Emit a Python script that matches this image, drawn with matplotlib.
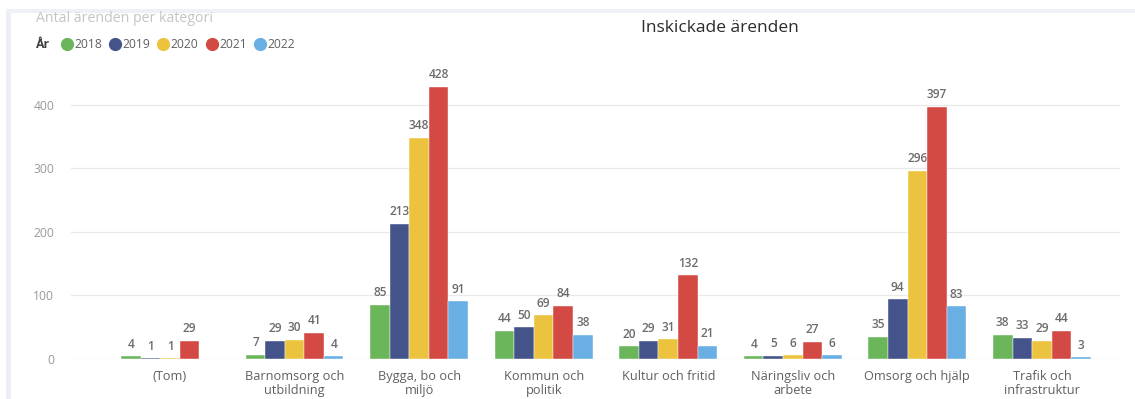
import numpy as np
import matplotlib
matplotlib.use("Agg")
import matplotlib.pyplot as plt
from matplotlib.patches import Rectangle
from matplotlib.lines import Line2D

plt.rcParams["font.family"] = ["Open Sans", "DejaVu Sans"]

categories = ["(Tom)", "Barnomsorg och\nutbildning", "Bygga, bo och\nmiljö", "Kommun och\npolitik",
              "Kultur och fritid", "Näringsliv och\narbete", "Omsorg och hjälp", "Trafik och\ninfrastruktur"]
years = ["2018", "2019", "2020", "2021", "2022"]
v2018 = [4, 7, 85, 44, 20, 4, 35, 38]
v2019 = [1, 29, 213, 50, 29, 5, 94, 33]
v2020 = [1, 30, 348, 69, 31, 6, 296, 29]
v2021 = [29, 41, 428, 84, 132, 27, 397, 44]
v2022 = [None, 4, 91, 38, 21, 6, 83, 3]
yticks = [0, 100, 200, 300, 400]

colors = ["#6BB65B", "#44538A", "#EBC33F", "#D34A45", "#6AAFE4"]
series = [v2018, v2019, v2020, v2021, v2022]

fig = plt.figure(figsize=(11.35, 3.99), dpi=100)
ax = fig.add_axes([0.0626, 0.1003, 0.9245, 0.717])

# card shadow edges of the screenshot
fig.patches.append(Rectangle((6 / 1135, 0.0), 5 / 1135, 1 - 9 / 399, transform=fig.transFigure,
                             facecolor="#eceef6", edgecolor="none", zorder=0))
fig.patches.append(Rectangle((6 / 1135, 1 - 13 / 399), 1.0, 4 / 399, transform=fig.transFigure,
                             facecolor="#eef0f7", edgecolor="none", zorder=0))

x = np.arange(len(categories))
w = 0.157
for i, (vals, col) in enumerate(zip(series, colors)):
    for xi, v in zip(x, vals):
        if v is None:
            continue
        xpos = xi + (i - 2) * w
        ax.bar(xpos, v, width=w, color=col, edgecolor="white", linewidth=0.3, zorder=3)
        ax.annotate(str(v), (xpos, v), xytext=(0, 4), textcoords="offset points",
                    ha="center", va="bottom", fontsize=8.6, color="#6b6b6b",
                    fontweight="semibold")

ax.set_xlim(-0.795, 7.63)
ax.set_ylim(0, 450)
ax.set_yticks(yticks)
ax.set_xticks(x)
ax.set_xticklabels(categories, fontsize=9.2, color="#606060", linespacing=1.05)
ax.tick_params(axis="both", length=0)
ax.tick_params(axis="x", pad=8)
ax.tick_params(axis="y", pad=12, labelsize=8.7, labelcolor="#999999")
ax.grid(axis="y", color="#e9e9e9", linewidth=0.9, zorder=0)
for s in ax.spines.values():
    s.set_visible(False)

fig.text(36 / 1135, 1 - 19 / 399, "Antal ärenden per kategori", fontsize=10.2,
         color="#c4c4c4", va="center", ha="left")
fig.text(720 / 1135, 1 - 28 / 399, "Inskickade ärenden", fontsize=12.5,
         color="#2b2b2b", va="center", ha="center")

# legend
ly = 1 - 44 / 399
fig.text(36 / 1135, ly, "År", fontsize=8.7, color="#404040", fontweight="bold",
         va="center", ha="left")
lx = [67, 115, 163, 212, 260]
for xx, yr, col in zip(lx, years, colors):
    fig.add_artist(Line2D([xx / 1135], [ly], marker="o", markersize=8.5, color=col,
                          linestyle="none", transform=fig.transFigure))
    fig.text((xx + 7) / 1135, ly, yr, fontsize=8.7, color="#606060", va="center", ha="left")

fig.savefig("out.png", dpi=100)
